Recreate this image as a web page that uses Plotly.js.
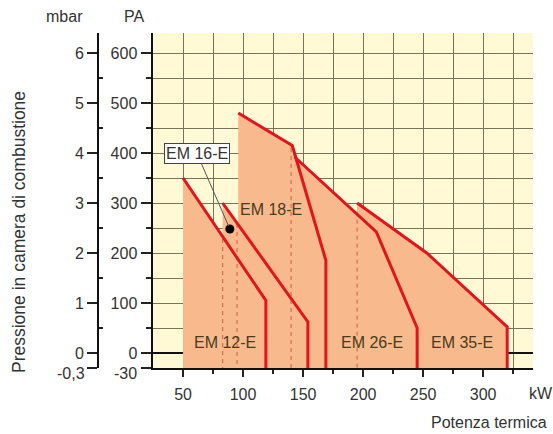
<!DOCTYPE html>
<html>
<head>
<meta charset="utf-8">
<script src="https://cdn.plot.ly/plotly-3.0.1.min.js"></script>
<style>html,body{margin:0;padding:0;background:#fff}#chart{width:553px;height:434px}</style>
</head>
<body>
<div id="chart"></div>
<script>
// ---- data (kW vs PA) ----
const em12_kw = [50, 119, 119];
const em12_pa = [350, 105, -30];
const em16_kw = [83, 154, 154];
const em16_pa = [300, 62, -30];
const em18_kw = [96, 141, 169, 169];
const em18_pa = [480, 415, 185, -30];
const em26_kw = [143, 211, 245, 245];
const em26_pa = [392, 242, 50, -30];
const em35_kw = [195, 253, 320, 320];
const em35_pa = [300, 200, 52, -30];
const modelNames = ['EM 12-E', 'EM 16-E', 'EM 18-E', 'EM 26-E', 'EM 35-E'];
const labelKw = [85, 61.5, 123, 207.5, 282.5];
const labelPa = [22, 400, 288, 22, 22];
const dashKw = [83, 95, 140, 195];
const dashTop = [228, 258, 410, 283];
const pointKw = [89];
const pointPa = [248];
const paTicks = [-30, 0, 100, 200, 300, 400, 500, 600];
const paTickText = ['-30', '0', '100', '200', '300', '400', '500', '600'];
const mbarTicks = [-0.3, 0, 1, 2, 3, 4, 5, 6];
const mbarTickText = ['-0,3', '0', '1', '2', '3', '4', '5', '6'];
const kwTicks = [50, 100, 150, 200, 250, 300];

const FILL = '#F8BA8C';
const RED = '#E0161C';
const FONT = '"Liberation Sans", Arial, sans-serif';
const TXT = '#333';

const series = [
  [em12_kw, em12_pa], [em16_kw, em16_pa], [em18_kw, em18_pa],
  [em26_kw, em26_pa], [em35_kw, em35_pa]
];

const traces = [];
// zero line
traces.push({x: [25, 341.5], y: [0, 0], mode: 'lines', line: {color: '#111', width: 2}, hoverinfo: 'skip'});
// fills
series.forEach(([kw, pa]) => {
  traces.push({
    x: [kw[0]].concat(kw), y: [-30].concat(pa),
    mode: 'lines', fill: 'toself', fillcolor: FILL,
    line: {width: 0, color: FILL}, hoverinfo: 'skip'
  });
});
// dashed verticals
const dx = [], dy = [];
dashKw.forEach((k, i) => { dx.push(k, k, null); dy.push(dashTop[i], -30, null); });
traces.push({x: dx, y: dy, mode: 'lines', line: {color: '#D86A55', width: 1.2, dash: '4px,4px'}, hoverinfo: 'skip'});
// red lines
series.forEach(([kw, pa]) => {
  traces.push({x: kw, y: pa, mode: 'lines', line: {color: RED, width: 3}, hoverinfo: 'skip'});
});
// point
traces.push({x: pointKw, y: pointPa, mode: 'markers', marker: {color: '#000', size: 9}, hoverinfo: 'skip'});
// dummy for y2
traces.push({x: [25], y: [0], yaxis: 'y2', mode: 'markers', marker: {opacity: 0}, hoverinfo: 'skip'});

const annotations = [];
modelNames.forEach((n, i) => {
  if (i === 1) {
    annotations.push({
      x: pointKw[0], y: pointPa[0], ax: labelKw[i], ay: labelPa[i], axref: 'x', ayref: 'y',
      xref: 'x', yref: 'y', text: n, showarrow: true, arrowhead: 0, arrowwidth: 1,
      arrowcolor: '#555', standoff: 3, bgcolor: '#fff', bordercolor: '#444', borderwidth: 1,
      borderpad: 1, font: {family: FONT, size: 16, color: TXT}
    });
  } else {
    annotations.push({x: labelKw[i], y: labelPa[i], xref: 'x', yref: 'y', text: n, showarrow: false,
      xanchor: 'center', font: {family: FONT, size: 16, color: '#4a3a1e'}});
  }
});
const pw = 473, ph = 335;
function px(p) { return (p - 60) / pw; }
function py(p) { return (368 - p) / ph; }
const tf = {family: FONT, size: 16, color: TXT};
annotations.push({xref: 'paper', yref: 'paper', x: px(64), y: py(16), xanchor: 'center', yanchor: 'middle', text: 'mbar', showarrow: false, font: tf});
annotations.push({xref: 'paper', yref: 'paper', x: px(134), y: py(17), xanchor: 'center', yanchor: 'middle', text: 'PA', showarrow: false, font: tf});
annotations.push({xref: 'paper', yref: 'paper', x: px(527), y: py(394), xanchor: 'left', yanchor: 'middle', text: 'kW', showarrow: false, font: tf});
annotations.push({xref: 'paper', yref: 'paper', x: px(549), y: py(422), xanchor: 'right', yanchor: 'middle', text: 'Potenza termica', showarrow: false, font: tf});
annotations.push({xref: 'paper', yref: 'paper', x: px(19), y: py(232), xanchor: 'center', yanchor: 'middle', textangle: -90, text: 'Pressione in camera di combustione', showarrow: false, font: {family: FONT, size: 17.5, color: TXT}});
// bottom tick labels (-30 PA / -0,3 mbar), nudged below the tick like the reference
annotations.push({xref: 'paper', yref: 'y', x: px(139), y: paTicks[0], yshift: -5, xanchor: 'right', yanchor: 'middle', text: paTickText[0], showarrow: false, font: tf});
annotations.push({xref: 'paper', yref: 'y', x: px(87), y: paTicks[0], yshift: -5, xanchor: 'right', yanchor: 'middle', text: mbarTickText[0], showarrow: false, font: tf});

const GRID = '#77745A';
const layout = {
  width: 553, height: 434,
  margin: {l: 60, r: 20, t: 33, b: 66},
  paper_bgcolor: '#fff', plot_bgcolor: '#FFF9D5',
  showlegend: false,
  font: {family: FONT, size: 16, color: TXT},
  xaxis: {
    domain: [93 / 473, 1], range: [25, 341.5], tickvals: kwTicks,
    showgrid: true, gridcolor: GRID, gridwidth: 1,
    ticks: 'outside', ticklen: 7, tickcolor: '#222', tickwidth: 1.5,
    showline: true, linecolor: '#111', linewidth: 1.5,
    zeroline: false, ticklabelstandoff: 4,
    minor: {tickvals: [75, 125, 175, 225, 275, 325], ticks: 'outside', ticklen: 4, tickcolor: '#222', showgrid: true, gridcolor: GRID, gridwidth: 1},
    tickfont: tf
  },
  yaxis: {
    range: [-30, 640], tickvals: paTicks, ticktext: paTickText.map((t, i) => i === 0 ? '' : t),
    showgrid: true, gridcolor: GRID, gridwidth: 1,
    ticks: 'outside', ticklen: 10, tickcolor: '#222', tickwidth: 1.5,
    showline: true, linecolor: '#111', linewidth: 2.5, zeroline: false,
    minor: {tickvals: [50, 150, 250, 350, 450, 550], ticks: 'outside', ticklen: 5, tickcolor: '#222', showgrid: true, gridcolor: GRID, gridwidth: 1},
    tickfont: tf
  },
  yaxis2: {
    overlaying: 'y', anchor: 'free', side: 'left', position: 38 / 473,
    range: [-0.3, 6.4], tickvals: mbarTicks, ticktext: mbarTickText.map((t, i) => i === 0 ? '' : t),
    showgrid: false, zeroline: false,
    ticks: 'outside', ticklen: 10, tickcolor: '#222', tickwidth: 1.5,
    showline: true, linecolor: '#111', linewidth: 2,
    minor: {tickvals: [0.5, 1.5, 2.5, 3.5, 4.5, 5.5], ticks: 'inside', ticklen: 4, tickcolor: '#222', showgrid: false},
    tickfont: tf
  },
  annotations: annotations
};
Plotly.newPlot('chart', traces, layout, {displayModeBar: false, staticPlot: true});
</script>
</body>
</html>
